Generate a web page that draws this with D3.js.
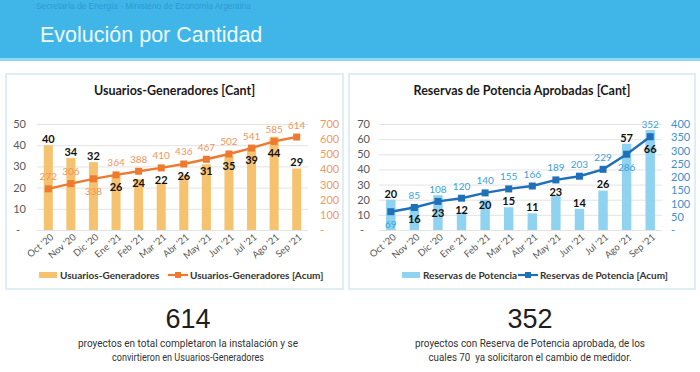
<!DOCTYPE html>
<html>
<head>
<meta charset="utf-8">
<script src="https://cdn.jsdelivr.net/npm/d3@7"></script>
<style>
  body { margin: 0; background: #fff; }
  svg { display: block; }
  .pre { white-space: pre; }
</style>
</head>
<body>
<div id="vis"></div>
<script>
// data
const months = ["Oct '20", "Nov '20", "Dic '20", "Ene '21", "Feb '21", "Mar '21",
        "Abr '21", "May '21", "Jun '21", "Jul '21", "Ago '21", "Sep '21"];
const ugMonthly = [40, 34, 32, 26, 24, 22, 26, 31, 35, 39, 44, 29];
const ugAccum = [272, 306, 338, 364, 388, 410, 436, 467, 502, 541, 585, 614];
const rpMonthly = [20, 16, 23, 12, 20, 15, 11, 23, 14, 26, 57, 66];
const rpAccum = [69, 85, 108, 120, 140, 155, 166, 189, 203, 229, 286, 352];
const ugLeftTicks = [0, 10, 20, 30, 40, 50];
const ugRightTicks = [0, 100, 200, 300, 400, 500, 600, 700];
const rpLeftTicks = [0, 10, 20, 30, 40, 50, 60, 70];
const rpRightTicks = [0, 50, 100, 150, 200, 250, 300, 350, 400];

const W = 700, H = 372;
const chartFont = "Lato, 'Noto Sans', sans-serif";
const narrowFont = "'Liberation Sans Narrow', 'Roboto', sans-serif";
const plainFont = "'Liberation Sans', Arial, sans-serif";

const svg = d3.select("#vis")
        .append("svg")
        .attr("width", W)
        .attr("height", H);

// header band
svg.append("rect")
        .attr("x", 0).attr("y", 0)
        .attr("width", W).attr("height", 60)
        .attr("fill", "#40b6e8");
svg.append("rect")
        .attr("x", 0).attr("y", 58)
        .attr("width", W).attr("height", 3)
        .attr("fill", "#8fd6f2");
svg.append("text")
        .attr("x", 36).attr("y", 9)
        .attr("font-family", plainFont)
        .attr("font-size", 8.4)
        .attr("fill", "#2c9ad4")
        .text("Secretaría de Energía - Ministerio de Economía Argentina");
svg.append("text")
        .attr("x", 40).attr("y", 42)
        .attr("font-family", plainFont)
        .attr("font-size", 21.5)
        .attr("fill", "#eef9fe")
        .text("Evolución por Cantidad");

function fmtTick(d) { return d === 0 ? "-" : d; }

function drawPanel(cfg) {
  const g = svg.append("g");

  g.append("rect")
          .attr("x", cfg.box[0]).attr("y", 74)
          .attr("width", cfg.box[1] - cfg.box[0]).attr("height", 215)
          .attr("fill", "#fff")
          .attr("stroke", "#d5e8f1")
          .attr("stroke-width", 1.5);

  g.append("text")
          .attr("x", (cfg.box[0] + cfg.box[1]) / 2).attr("y", 95)
          .attr("text-anchor", "middle")
          .attr("font-family", chartFont)
          .attr("font-weight", "bold")
          .attr("font-size", 12.5)
          .attr("fill", "#1a1a1a")
          .text(cfg.title);

  const x = d3.scaleBand()
          .domain(months)
          .range(cfg.xRange)
          .paddingInner(0.6)
          .paddingOuter(0.3);
  const yL = d3.scaleLinear().domain([0, cfg.leftTicks[cfg.leftTicks.length - 1]]).range([230, 124]);
  const yR = d3.scaleLinear().domain([0, cfg.rightTicks[cfg.rightTicks.length - 1]]).range([230, 124]);

  // grid
  g.append("g")
          .attr("transform", "translate(" + cfg.xRange[0] + ",0)")
          .call(d3.axisLeft(yL).tickValues(cfg.leftTicks)
                  .tickSize(-(cfg.xRange[1] - cfg.xRange[0])).tickFormat(""))
          .call(a => a.select(".domain").remove())
          .call(a => a.selectAll("line").attr("stroke", "#e3e3e3"));

  // left axis
  g.append("g")
          .attr("transform", "translate(" + cfg.leftX + ",0)")
          .call(d3.axisLeft(yL).tickValues(cfg.leftTicks).tickSize(0).tickPadding(0).tickFormat(fmtTick))
          .call(a => a.select(".domain").remove())
          .call(a => a.selectAll("text")
                  .attr("font-family", chartFont)
                  .attr("font-size", 11)
                  .attr("fill", "#595959")
                  .attr("dx", d => d === 0 ? -6 : 0));

  // right axis
  g.append("g")
          .attr("transform", "translate(" + cfg.rightX + ",0)")
          .call(d3.axisRight(yR).tickValues(cfg.rightTicks).tickSize(0).tickPadding(0).tickFormat(fmtTick))
          .call(a => a.select(".domain").remove())
          .call(a => a.selectAll("text")
                  .attr("font-family", chartFont)
                  .attr("font-size", 11)
                  .attr("fill", cfg.rightAxisColor));

  // x axis labels, rotated
  g.append("g")
          .attr("transform", "translate(0,236)")
          .call(d3.axisBottom(x).tickSize(0).tickPadding(0))
          .call(a => a.select(".domain").remove())
          .call(a => a.selectAll("text")
                  .attr("font-family", chartFont)
                  .attr("font-size", 9.5)
                  .attr("fill", "#595959")
                  .attr("text-anchor", "end")
                  .attr("dy", "0.3em")
                  .attr("transform", "translate(4,0) rotate(-40)"));

  // bars
  g.append("g").selectAll("rect")
          .data(cfg.bars)
          .join("rect")
          .attr("x", (d, i) => x(months[i]))
          .attr("y", d => yL(d))
          .attr("width", x.bandwidth())
          .attr("height", d => yL(0) - yL(d))
          .attr("fill", cfg.barColor);

  // line
  const pts = cfg.line.map((v, i) => [x(months[i]) + x.bandwidth() / 2, yR(v)]);
  g.append("path")
          .attr("d", d3.line()(pts))
          .attr("fill", "none")
          .attr("stroke", cfg.lineColor)
          .attr("stroke-width", 2.4);
  g.append("g").selectAll("rect")
          .data(pts)
          .join("rect")
          .attr("x", d => d[0] - 3.5)
          .attr("y", d => d[1] - 3.5)
          .attr("width", 7).attr("height", 7)
          .attr("fill", cfg.lineColor);

  // label placement: bar label above the bar unless it would sit on the line,
  // then line label above its marker unless it hits the bar label
  const barLabelY = cfg.bars.map((v, i) => {
    let ly = yL(v) - 6;
    if (Math.abs(ly - pts[i][1]) < 13) ly = pts[i][1] + 12;
    return ly;
  });
  const lineLabelY = pts.map((p, i) => {
    let ly = p[1] - 12;
    if (Math.abs(ly - barLabelY[i]) < 12) ly = p[1] + 13;
    return ly;
  });

  g.append("g").selectAll("text")
          .data(cfg.bars)
          .join("text")
          .attr("x", (d, i) => pts[i][0])
          .attr("y", (d, i) => barLabelY[i])
          .attr("dy", "0.35em")
          .attr("text-anchor", "middle")
          .attr("font-family", chartFont)
          .attr("font-weight", "bold")
          .attr("font-size", 11)
          .attr("fill", "#111")
          .text(d => d);

  g.append("g").selectAll("text")
          .data(cfg.line)
          .join("text")
          .attr("x", (d, i) => pts[i][0])
          .attr("y", (d, i) => lineLabelY[i])
          .attr("dy", "0.35em")
          .attr("text-anchor", "middle")
          .attr("font-family", chartFont)
          .attr("font-size", 10)
          .attr("fill", cfg.lineLabelColor)
          .text(d => d);

  // legend
  const lg = g.append("g").attr("transform", "translate(" + cfg.legendX + ",275)");
  lg.append("rect")
          .attr("x", 0).attr("y", -3)
          .attr("width", 18).attr("height", 6)
          .attr("fill", cfg.barColor);
  lg.append("text")
          .attr("x", 21).attr("y", 0).attr("dy", "0.35em")
          .attr("font-family", chartFont)
          .attr("font-weight", "bold")
          .attr("font-size", 10)
          .attr("fill", "#333")
          .text(cfg.barName);
  lg.append("line")
          .attr("x1", cfg.legendGap).attr("x2", cfg.legendGap + 20)
          .attr("y1", 0).attr("y2", 0)
          .attr("stroke", cfg.lineColor)
          .attr("stroke-width", 2.2);
  lg.append("rect")
          .attr("x", cfg.legendGap + 7).attr("y", -3)
          .attr("width", 6).attr("height", 6)
          .attr("fill", cfg.lineColor);
  lg.append("text")
          .attr("x", cfg.legendGap + 22).attr("y", 0).attr("dy", "0.35em")
          .attr("font-family", chartFont)
          .attr("font-weight", "bold")
          .attr("font-size", 10)
          .attr("fill", "#333")
          .text(cfg.lineName);
}

drawPanel({
  box: [6, 343],
  title: "Usuarios-Generadores [Cant]",
  xRange: [37, 308],
  leftX: 26, rightX: 320,
  leftTicks: ugLeftTicks, rightTicks: ugRightTicks,
  bars: ugMonthly, line: ugAccum,
  barColor: "#f5c26f", lineColor: "#ee7a2f",
  lineLabelColor: "#f0955a", rightAxisColor: "#ee9a5e",
  barName: "Usuarios-Generadores",
  lineName: "Usuarios-Generadores [Acum]",
  legendX: 39, legendGap: 129
});

drawPanel({
  box: [349, 695],
  title: "Reservas de Potencia Aprobadas [Cant]",
  xRange: [379, 662],
  leftX: 370, rightX: 671,
  leftTicks: rpLeftTicks, rightTicks: rpRightTicks,
  bars: rpMonthly, line: rpAccum,
  barColor: "#8fd3f0", lineColor: "#1f70b8",
  lineLabelColor: "#3d9fdc", rightAxisColor: "#3d8fd0",
  barName: "Reservas de Potencia",
  lineName: "Reservas de Potencia [Acum]",
  legendX: 402, legendGap: 116
});

// summary figures under the panels
function summary(cx, big, line1, line2, w1, w2) {
  svg.append("text")
          .attr("x", cx).attr("y", 328)
          .attr("text-anchor", "middle")
          .attr("font-family", plainFont)
          .attr("font-size", 27)
          .attr("fill", "#1e1e1e")
          .text(big);
  svg.append("text")
          .attr("x", cx).attr("y", 347)
          .attr("text-anchor", "middle")
          .attr("font-family", narrowFont)
          .attr("font-size", 11.5)
          .attr("fill", "#333")
          .attr("textLength", w1)
          .attr("lengthAdjust", "spacingAndGlyphs")
          .text(line1);
  svg.append("text")
          .attr("class", "pre")
          .attr("x", cx).attr("y", 360.5)
          .attr("text-anchor", "middle")
          .attr("font-family", narrowFont)
          .attr("font-size", 11.5)
          .attr("fill", "#333")
          .attr("textLength", w2)
          .attr("lengthAdjust", "spacingAndGlyphs")
          .text(line2);
}

summary(188, "614", "proyectos en total completaron la instalación y se",
        "convirtieron en Usuarios-Generadores", 220, 152);
summary(530, "352", "proyectos con Reserva de Potencia aprobada, de los",
        "cuales 70  ya solicitaron el cambio de medidor.", 230, 203);
</script>
</body>
</html>
